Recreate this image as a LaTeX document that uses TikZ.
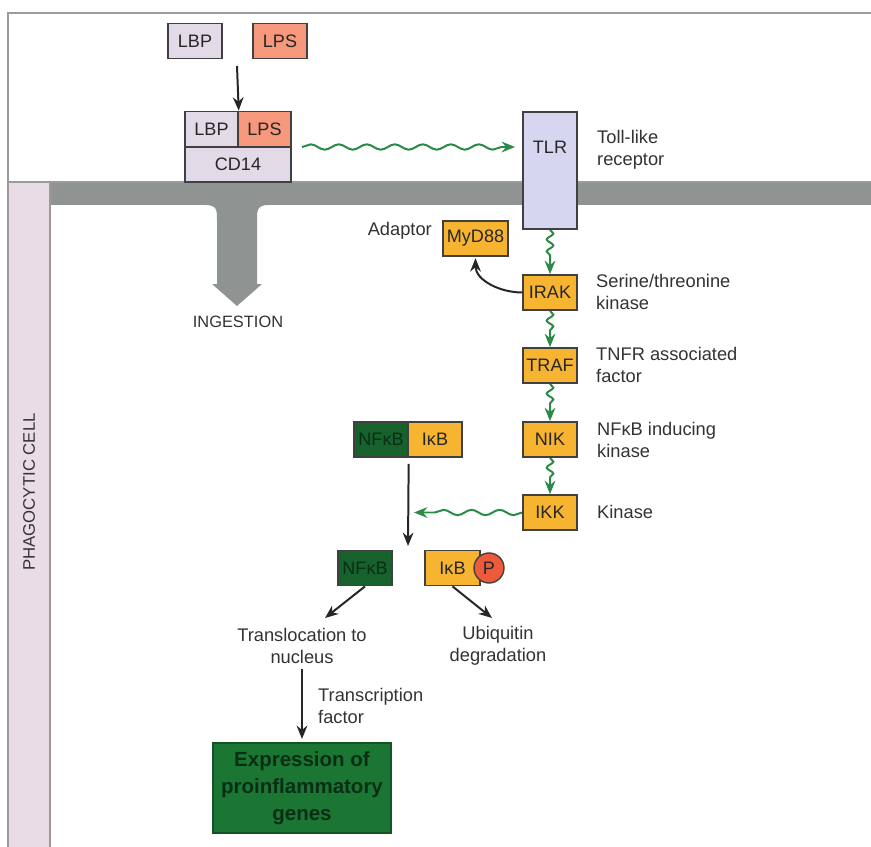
\documentclass[tikz,border=0pt]{standalone}
\usepackage{fontspec}
\setmainfont{Liberation Sans}
\usepackage{tikz}
\usetikzlibrary{arrows.meta,decorations.pathmorphing,shapes}
\definecolor{lav}{HTML}{E3DAE7}
\definecolor{salmon}{HTML}{F5987C}
\definecolor{tlrblue}{HTML}{D7D6F1}
\definecolor{amber}{HTML}{F6B431}
\definecolor{nfgreen}{HTML}{17612D}
\definecolor{nfdark}{HTML}{0A2E14}
\definecolor{genegreen}{HTML}{1B7633}
\definecolor{memgray}{HTML}{8F9392}
\definecolor{cellpink}{HTML}{EADCE7}
\definecolor{pred}{HTML}{EE5B3B}
\definecolor{wgreen}{HTML}{2C8A48}
\definecolor{txtgray}{HTML}{333333}
\definecolor{edgegray}{HTML}{9A9C9C}
\tikzstyle{box}=[rectangle,draw=black!75,line width=1.200,text=black!85,inner sep=0pt,minimum width=1.62cm,minimum height=1.06cm,font=\fontsize{15.4}{18}\selectfont]
\tikzstyle{txt}=[inner sep=0pt,text=txtgray,align=left,font=\fontsize{15.6}{18.5}\selectfont]
\tikzstyle{inarrow}=[-{Stealth[length=4mm,width=3.2mm]},draw=black!85,line width=1.700]
\tikzstyle{wavy}=[-{Stealth[length=4mm,width=3.2mm]},draw=wgreen,line width=1.700,decorate,decoration={snake,amplitude=0.8mm,segment length=8.4mm,post length=4mm}]
\tikzstyle{shortwavy}=[wavy,decoration={snake,amplitude=1mm,segment length=3.6mm,post length=4mm}]
\pgfdeclarelayer{backlayer}
\pgfdeclarelayer{edgelayer}
\pgfdeclarelayer{nodelayer}
\pgfsetlayers{backlayer,edgelayer,nodelayer,main}
\begin{document}
\begin{tikzpicture}[x=0.03cm,y=-0.03cm]
	\useasboundingbox (0,0) rectangle (871,847);
	\begin{pgfonlayer}{backlayer}
		\fill [white] (0,0) rectangle (871,847);
		\fill [cellpink] (8,182) rectangle (50,847);
		\fill [memgray] (50,182) rectangle (871,205);
		\fill [memgray] (205,205) .. controls (217,205) and (217,210) .. (217,220) -- (217,284) -- (212,284) -- (237,306) -- (262,284) -- (257,284) -- (257,220) .. controls (257,210) and (257,205) .. (269,205) -- cycle;
		\draw [edgegray, line width=1.000] (8,847) -- (8,13) -- (871,13);
		\draw [edgegray, line width=1.000] (8,182) -- (871,182);
		\draw [edgegray, line width=1.000] (50,182) -- (50,847);
	\end{pgfonlayer}
	\begin{pgfonlayer}{nodelayer}
		\node [style=box, fill=lav] (LBP) at (195, 41) {LBP};
		\node [style=box, fill=salmon] (LPS) at (280, 41) {LPS};
		\coordinate (drop) at (237, 66);

		\node [style=box, fill=lav, minimum width=1.59cm] (cLBP) at (211.5, 129) {LBP};
		\node [style=box, fill=salmon, minimum width=1.59cm] (cLPS) at (264.5, 129) {LPS};
		\node [style=box, fill=lav, minimum width=3.18cm, minimum height=1.05cm] (CD14) at (238, 164.5) {CD14};
		\coordinate (wstart) at (302, 147);
		\coordinate (wend) at (515, 147);

		\node [style=box, fill=tlrblue, minimum height=3.51cm] (TLR) at (550, 170.5) {};
		\node [inner sep=0pt, text=black!85, font=\fontsize{15.4}{18}\selectfont] (TLRt) at (550, 147) {TLR};
		\node [style=box, fill=amber, minimum width=1.95cm] (MyD88) at (475.5, 238.5) {MyD88};
		\node [style=box, fill=amber] (IRAK) at (550, 292.5) {IRAK};
		\node [style=box, fill=amber] (TRAF) at (550, 365.5) {TRAF};
		\node [style=box, fill=amber] (NIK) at (550, 439.5) {NIK};
		\node [style=box, fill=amber] (IKK) at (550, 512.5) {IKK};

		\node [style=box, fill=nfgreen, text=nfdark] (NFc) at (381, 439.5) {NFκB};
		\node [style=box, fill=amber] (IkBc) at (435, 439.5) {IκB};
		\coordinate (hit) at (414, 512.5);
		\coordinate (split) at (408, 546);

		\node [style=box, fill=nfgreen, text=nfdark] (NF) at (365, 568) {NFκB};
		\node [style=box, fill=amber, minimum width=1.65cm] (IkB) at (452.5, 568) {IκB};
		\node [circle, draw=black!75, fill=pred, line width=1.200, minimum size=0.9cm, inner sep=0pt, text=black!85, font=\fontsize{15.4}{18}\selectfont] (P) at (489, 568) {P};
		\coordinate (t1) at (325, 618);
		\coordinate (u1) at (492, 618);

		\node [style=box, fill=genegreen, draw=genegreen!70!black, minimum width=5.34cm, minimum height=2.7cm, align=center, text=nfdark, font=\bfseries\fontsize{17.5}{23}\selectfont] (genes) at (302, 788) {Expression of\\proinflammatory\\genes};

		\node [style=txt, anchor=west] (tlrlab) at (597, 150) {Toll-like\\receptor};
		\node [style=txt, anchor=east] (adlab) at (432, 231) {Adaptor};
		\node [style=txt, anchor=west] (iraklab) at (596, 292) {Serine/threonine\\kinase};
		\node [style=txt, anchor=west] (traflab) at (596, 365) {TNFR associated\\factor};
		\node [style=txt, anchor=west] (niklab) at (597, 440) {NFκB inducing\\kinase};
		\node [style=txt, anchor=west] (ikklab) at (597, 512) {Kinase};
		\node [style=txt, align=center] (trans) at (302, 646) {Translocation to\\nucleus};
		\node [style=txt, align=center] (ubiq) at (498, 646) {Ubiquitin\\degradation};
		\node [style=txt, anchor=west] (tflab) at (318, 706) {Transcription\\factor};
		\node [style=txt, font=\fontsize{14}{17}\selectfont] (ingest) at (238, 322) {INGESTION};
		\node [style=txt, rotate=90, font=\fontsize{14.3}{17}\selectfont] (cell) at (29, 492) {PHAGOCYTIC CELL};
	\end{pgfonlayer}
	\begin{pgfonlayer}{edgelayer}
		\draw [style=inarrow] (drop) to (cLBP.north east);
		\draw [style=wavy] (wstart) to (wend);
		\draw [style=shortwavy] (TLR.south) to (IRAK.north);
		\draw [style=shortwavy] (IRAK.south) to (TRAF.north);
		\draw [style=shortwavy] (TRAF.south) to (NIK.north);
		\draw [style=shortwavy] (NIK.south) to (IKK.north);
		\draw [style=wavy] (IKK.west) to (hit);
		\draw [style=inarrow, shorten >=0.4mm] (IRAK.west) to [out=180, in=-90] (MyD88.south);
		\draw [style=inarrow, shorten <=1.8mm] (NFc.south east) to (split);
		\draw [style=inarrow] (NF.south) to (t1);
		\draw [style=inarrow] (IkB.south) to (u1);
		\draw [style=inarrow, shorten <=1.5mm, shorten >=1mm] (trans.south) to (genes.north);
	\end{pgfonlayer}
\end{tikzpicture}
\end{document}
